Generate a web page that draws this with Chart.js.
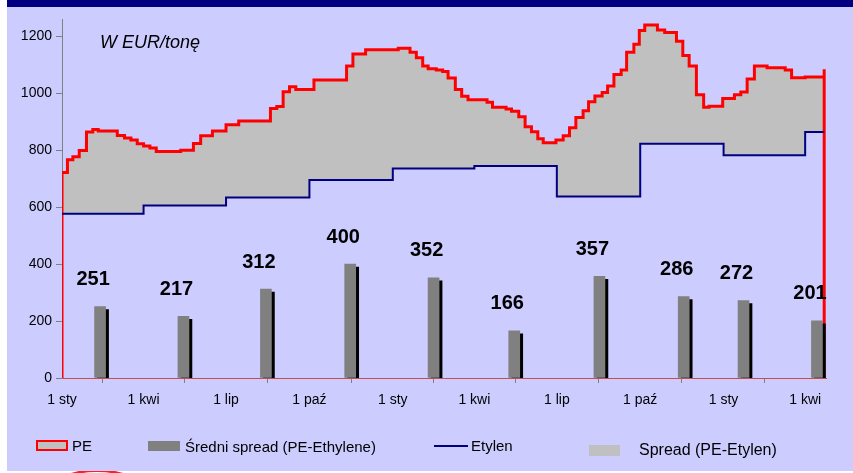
<!DOCTYPE html>
<html>
<head>
<meta charset="utf-8">
<script src="https://cdn.jsdelivr.net/npm/chart.js@4.4.1/dist/chart.umd.min.js"></script>
<style>
  body { margin: 0; background: #fff; font-family: 'Liberation Sans', Arial, sans-serif; }
  #wrap { position: absolute; left: 7px; top: 0; width: 846px; height: 471px; background: #CCCCFF; overflow: hidden; z-index: 1; }
  #band { position: absolute; left: 0; top: 0; width: 846px; height: 7px; background: #000080; }
  #chart { position: absolute; left: 0; top: 7px; }
  .txt { position: absolute; color: #000; white-space: nowrap; font-size: 15px; }
  .box { position: absolute; }
  #arc { position: absolute; left: 52px; top: 469px; width: 90px; height: 40px; border-radius: 50%; border-top: 3px solid #ff2020; z-index: 0; }
</style>
</head>
<body>
<div id="arc"></div>
<div id="wrap">
  <div id="band"></div>
  <canvas id="chart" width="846" height="464"></canvas>
  <div class="txt" style="left:93px;top:32px;font-size:18px;font-style:italic;">W EUR/tonę</div>

  <div class="box" style="left:29px;top:440px;width:28px;height:7px;background:#C0C0C0;border:2px solid #ff0000;"></div>
  <div class="txt" style="left:65px;top:437px;">PE</div>
  <div class="box" style="left:141px;top:441px;width:32px;height:10px;background:#808080;"></div>
  <div class="txt" style="left:178px;top:438px;">Średni spread (PE-Ethylene)</div>
  <div class="box" style="left:427px;top:445px;width:34px;height:2px;background:#000080;"></div>
  <div class="txt" style="left:464px;top:437px;">Etylen</div>
  <div class="box" style="left:582px;top:445px;width:31px;height:11px;background:#C0C0C0;"></div>
  <div class="txt" style="left:632px;top:441px;font-size:16px;">Spread (PE-Etylen)</div>
</div>
<script>
// x axis is in days from the first "1 sty"
const tickDays = [0, 90, 181, 273, 365, 455, 546, 638, 730, 820];
const tickLabels = ['1 sty', '1 kwi', '1 lip', '1 paź', '1 sty', '1 kwi', '1 lip', '1 paź', '1 sty', '1 kwi'];
const yTicks = [0, 200, 400, 600, 800, 1000, 1200];

// PE price (step changes)
const peDays = [0, 0, 6, 12, 19, 27, 34, 40, 61, 69, 76, 83, 90, 97, 104, 131, 145, 153, 166, 181, 195,
  230, 237, 244, 251, 258, 278, 314, 321, 335, 371, 384, 391, 398, 404, 413, 420, 426, 434, 441, 448,
  469, 475, 490, 496, 504, 511, 518, 525, 531, 545, 553, 560, 567, 575, 581, 588, 596, 602, 609, 617,
  623, 631, 637, 643, 657, 665, 678, 685, 692, 700, 708, 714, 729, 742, 749, 756, 764, 778, 798, 805,
  820, 841, 841];
const peValues = [0, 722, 767, 777, 799, 864, 873, 868, 852, 843, 836, 823, 815, 808, 796, 800, 824, 851, 868, 890, 903,
  947, 954, 1006, 1023, 1014, 1047, 1096, 1138, 1153, 1159, 1145, 1125, 1096, 1087, 1082, 1077, 1054, 1014, 990, 978,
  969, 951, 945, 937, 918, 883, 865, 841, 827, 836, 851, 879, 915, 939, 971, 991, 1003, 1026, 1066, 1082,
  1145, 1173, 1221, 1240, 1223, 1214, 1183, 1133, 1096, 995, 951, 955, 982, 995, 1005, 1051, 1096, 1090, 1082, 1055,
  1058, 1085, 0];

// Etylen price
const etylenDays = [0, 90, 181, 273, 365, 455, 546, 638, 730, 820, 841];
const etylenValues = [577, 606, 634, 696, 736, 745, 638, 823, 783, 864, 864];

// average spread (bars)
const spreadDays = [42, 134, 225, 318, 410, 499, 593, 686, 752, 833];
const spreadValues = [251, 217, 312, 400, 352, 166, 357, 286, 272, 201];

const toPoints = (xs, ys) => xs.map((x, i) => ({ x: x, y: ys[i] }));

const barShadow = {
  id: 'barShadow',
  beforeDatasetDraw(chart, args) {
    if (args.index !== 2) return;
    const ctx = chart.ctx;
    ctx.save();
    ctx.shadowColor = '#000000';
    ctx.shadowOffsetX = 3;
    ctx.shadowOffsetY = 3;
    ctx.shadowBlur = 0;
  },
  afterDatasetDraw(chart, args) {
    if (args.index !== 2) return;
    chart.ctx.restore();
  }
};

const barLabels = {
  id: 'barLabels',
  afterDatasetsDraw(chart) {
    const ctx = chart.ctx;
    const meta = chart.getDatasetMeta(2);
    ctx.save();
    ctx.font = 'bold 20px "Liberation Sans", Arial, sans-serif';
    ctx.fillStyle = '#000';
    ctx.textAlign = 'center';
    ctx.textBaseline = 'middle';
    meta.data.forEach((bar, i) => {
      ctx.fillText(String(spreadValues[i]), bar.x - 7, bar.y - 27);
    });
    ctx.restore();
  }
};

const tickFont = { family: "'Liberation Sans', Arial, sans-serif", size: 14 };

new Chart(document.getElementById('chart').getContext('2d'), {
  type: 'line',
  data: {
    datasets: [{
      label: 'PE',
      data: toPoints(peDays, peValues),
      stepped: true,
      borderColor: '#ff0000',
      borderWidth: 3,
      backgroundColor: '#C0C0C0',
      fill: '+1',
      pointRadius: 0,
      order: 2
    }, {
      label: 'Etylen',
      data: toPoints(etylenDays, etylenValues),
      stepped: true,
      borderColor: '#000080',
      borderWidth: 2,
      fill: false,
      pointRadius: 0,
      order: 1
    }, {
      type: 'bar',
      label: 'Średni spread (PE-Ethylene)',
      data: toPoints(spreadDays, spreadValues),
      backgroundColor: '#808080',
      barThickness: 11,
      order: 0
    }]
  },
  options: {
    responsive: false,
    animation: false,
    devicePixelRatio: 1,
    layout: { padding: { top: 9, right: 27, left: 0, bottom: 0 } },
    plugins: { legend: { display: false }, tooltip: { enabled: false } },
    scales: {
      x: {
        type: 'linear',
        min: 0,
        max: 843,
        offset: false,
        afterBuildTicks: (scale) => { scale.ticks = tickDays.map(v => ({ value: v })); },
        afterFit: (scale) => { scale.height = 93; },
        ticks: {
          autoSkip: false,
          maxRotation: 0,
          padding: 9,
          color: '#000',
          font: tickFont,
          callback: (value, index) => tickLabels[index]
        },
        grid: { drawOnChartArea: false, tickLength: 5, color: '#808080' },
        border: { color: '#c05050', width: 1 }
      },
      y: {
        min: 0,
        max: 1260,
        afterBuildTicks: (scale) => { scale.ticks = yTicks.map(v => ({ value: v })); },
        afterFit: (scale) => { scale.width = 55; },
        ticks: { padding: 4, color: '#000', font: tickFont, callback: (value) => String(value) },
        grid: { drawOnChartArea: false, tickLength: 6, color: '#808080' },
        border: { color: '#808080', width: 1 }
      }
    }
  },
  plugins: [barShadow, barLabels]
});
</script>
</body>
</html>
